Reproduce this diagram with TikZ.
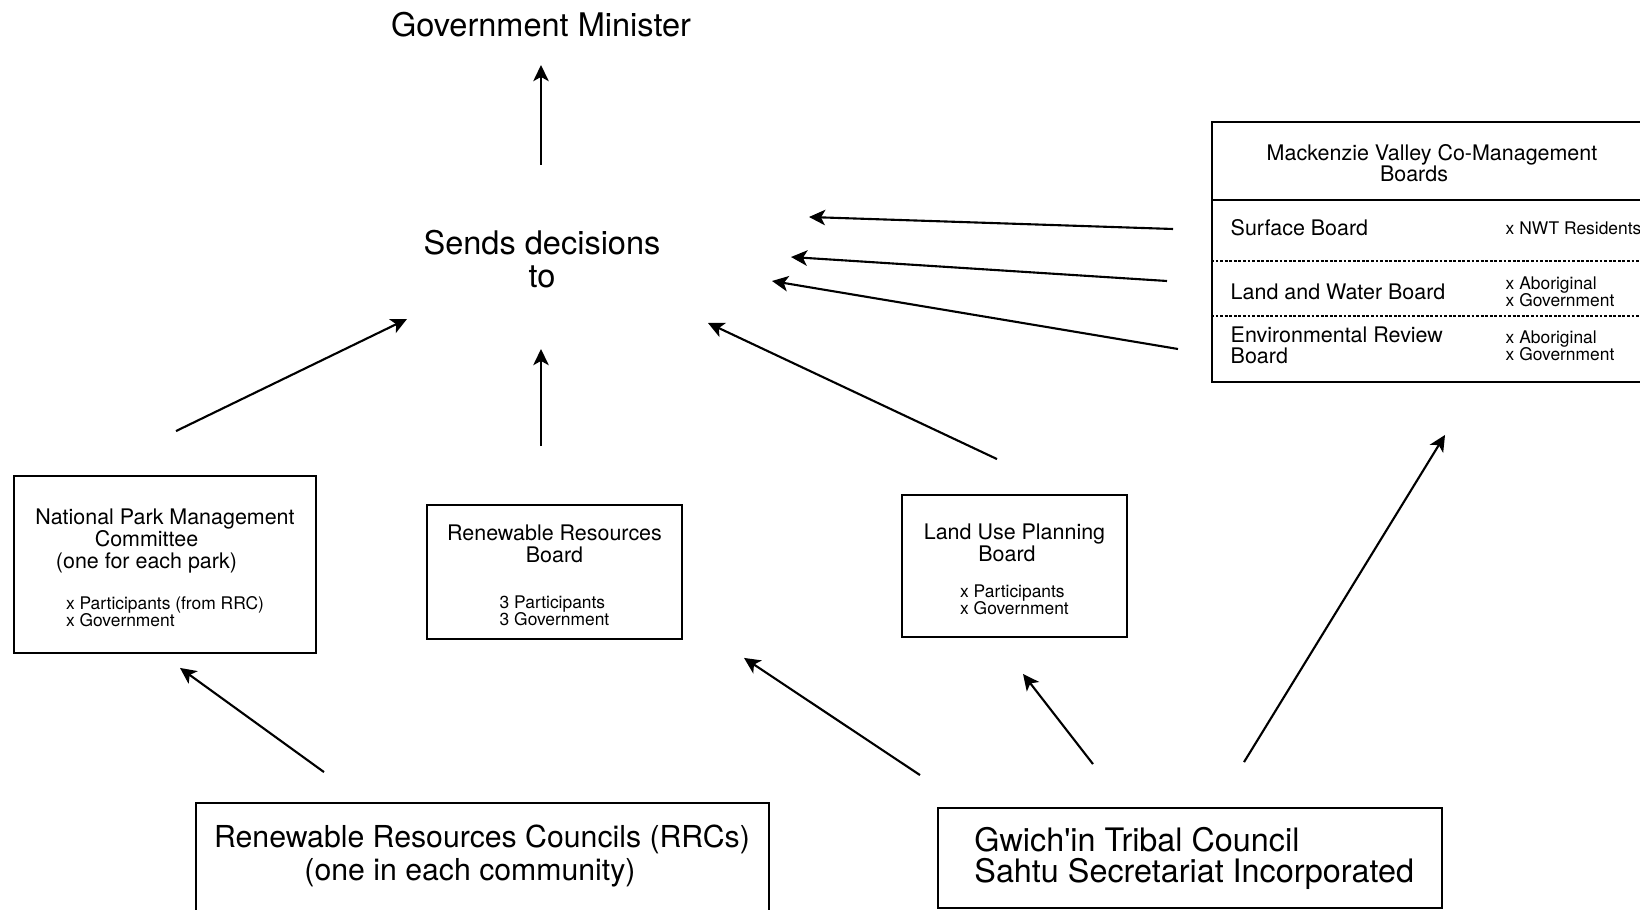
\documentclass[tikz,border=0pt]{standalone}
\usepackage{fontspec}
\setmainfont{TeX Gyre Heros}[Ligatures=TeXOff]
\usetikzlibrary{arrows.meta}
\newcommand\txtbig{\fontsize{9.25}{9.5}\selectfont}
\newcommand\txtmid{\fontsize{6.1}{6.2}\selectfont}
\newcommand\txttight{\fontsize{6.1}{6.0}\selectfont\lineskiplimit=-5pt}
\newcommand\txtsmall{\fontsize{4.95}{4.85}\selectfont}
\newcommand\members[1]{\txtsmall\renewcommand\arraystretch{0.8}%
  \raisebox{0pt}[\height][\dimexpr\depth-3.1pt]{\begin{tabular}[t]{@{}l@{}}#1\end{tabular}}}
\tikzset{
  arr/.style={-{Stealth[length=4.6pt,width=4.4pt,inset=1.2pt]}, line width=0.6pt},
  board/.style={draw, line width=0.5pt, align=center, inner sep=0pt, font=\txtmid},
  bigtxt/.style={align=center, inner sep=0pt, font=\txtbig},
  rowlbl/.style={anchor=west, align=left, inner sep=0pt, font=\txtmid},
  memlbl/.style={anchor=west, align=left, inner sep=0pt, font=\txtsmall},
  sep/.style={line width=0.5pt, dash pattern=on 0.8pt off 0.5pt},
}
\begin{document}
\begin{tikzpicture}[x=0.01cm, y=-0.01cm]
  \useasboundingbox (0,0) rectangle (1640,910);
  \node[bigtxt] (gm) at (541,25) {Government Minister};
  \node[bigtxt] (sends) at (542,259) {Sends decisions\\to};

  \node[board, minimum width=3.02cm, minimum height=1.77cm] (np) at (165,564.5)
    {National Park Management\\Committee\kern3.7mm\\(one for each park)\kern3.7mm\\[5.5pt]
     \members{x Participants (from RRC)\\x Government}};
  \node[board, minimum width=2.55cm, minimum height=1.34cm] (rrb) at (554.5,572)
    {Renewable Resources\\Board\\[6.9pt]\members{3 Participants\\3 Government}};
  \node[board, minimum width=2.25cm, minimum height=1.42cm] (lup) at (1014.5,566)
    {Land Use Planning\\Board\kern1.5mm\\[4pt]\members{x Participants\\x Government}};

  % co-management boards table
  \node[draw, line width=0.5pt, minimum width=4.48cm, minimum height=2.6cm, inner sep=0pt] (mv) at (1436,252) {};
  \node[align=center, inner sep=0pt, font=\txttight] (mvtitle) at (1432,163)
    {Mackenzie Valley Co-Management\\Boards\hspace*{3.6mm}};
  \draw[line width=0.5pt] (mv.west |- 0,200) -- (mv.east |- 0,200);
  \draw[sep] (mv.west |- 0,261) -- (mv.east |- 0,261);
  \draw[sep] (mv.west |- 0,316) -- (mv.east |- 0,316);
  \node[rowlbl] (surface) at (1230,228) {Surface Board};
  \node[rowlbl] (landwater) at (1230,292) {Land and Water Board};
  \node[rowlbl, font=\txttight] (envrev) at (1230,345) {Environmental Review\\Board};
  \node[memlbl] (surfacemem) at (1505,228) {x NWT Residents};
  \node[memlbl] (landwatermem) at (1505,292) {x Aboriginal\\x Government};
  \node[memlbl] (envrevmem) at (1505,346) {x Aboriginal\\x Government};

  \node[draw, line width=0.5pt, minimum width=5.73cm, minimum height=1.4cm, inner sep=0pt] (rrc) at (482.5,873) {};
  \node[align=center, inner sep=0pt, font={\fontsize{8.6}{9.2}\selectfont}] (rrclabel) at (482,856)
    {Renewable Resources Councils (RRCs)\\(one in each community)\hspace*{2.4mm}};
  \node[draw, line width=0.5pt, align=left, inner sep=0pt, font={\fontsize{9.2}{8.8}\selectfont},
        minimum width=5.04cm, minimum height=1cm] (gtc) at (1190,858)
    {\kern2.4pt Gwich'in Tribal Council\\\kern2.4pt Sahtu Secretariat Incorporated};

  \draw[arr] ([shift={(-1,-94)}]sends.center) -- ([shift={(0,40)}]gm.center);
  \draw[arr] ([shift={(11,-44)}]np.north) -- ([shift={(-135,60)}]sends.center);
  \draw[arr] ([shift={(-13.5,-58)}]rrb.north) -- ([shift={(-1,90)}]sends.center);
  \draw[arr] ([shift={(-17.5,-35)}]lup.north) -- ([shift={(166,64)}]sends.center);
  \draw[arr] ([shift={(-57,1)}]surface.west) -- ([shift={(267,-42)}]sends.center);
  \draw[arr] ([shift={(-63,-11)}]landwater.west) -- ([shift={(249,-2)}]sends.center);
  \draw[arr] ([shift={(-52,4)}]envrev.west) -- ([shift={(230,22)}]sends.center);
  \draw[arr] ([shift={(-158.5,-30)}]rrc.north) -- ([shift={(15,14)}]np.south);
  \draw[arr] ([shift={(-270,-32)}]gtc.north) -- ([shift={(189.5,18)}]rrb.south);
  \draw[arr] ([shift={(-97,-43)}]gtc.north) -- ([shift={(8.5,36)}]lup.south);
  \draw[arr] ([shift={(54,-45)}]gtc.north) -- ([shift={(9,52)}]mv.south);
\end{tikzpicture}
\end{document}
